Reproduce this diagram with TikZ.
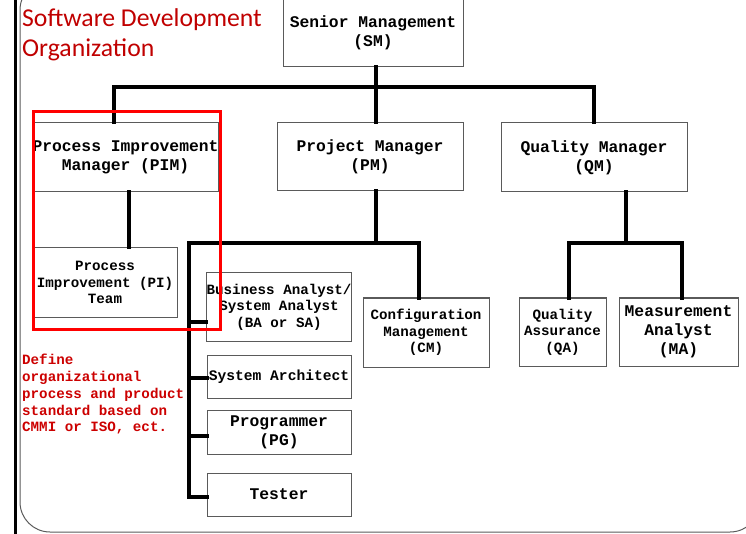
\documentclass[tikz,border=0pt]{standalone}
\usepackage{fontspec}
\setmonofont{Liberation Mono}
\newfontfamily\titlefont{Carlito}
\definecolor{titlered}{RGB}{192,0,0}
\definecolor{notered}{RGB}{204,0,0}
\definecolor{boxgray}{RGB}{90,90,90}
\begin{document}
\begin{tikzpicture}[x=1pt,y=-1pt,
  box/.style={draw=boxgray, line width=1pt, fill=white, inner sep=0pt, align=center,
    font=\ttfamily\bfseries\fontsize{16.3}{19}\selectfont},
  smallbox/.style={box, font=\ttfamily\bfseries\fontsize{14.2}{16.5}\selectfont},
  conn/.style={line width=4pt, line join=miter, line cap=rect},
  frame/.style={draw=boxgray, line width=1pt, rounded corners=30pt},
  highlight/.style={draw=red, line width=3pt}]
\useasboundingbox (0,0) rectangle (746,534);

% slide frame
\draw[frame] (20,-20) rectangle (760,532);
\draw[line width=3pt] (15,-5) -- (15,540);

% title
\node[anchor=base west, inner sep=0pt, text=titlered, align=left,
  font=\titlefont\fontsize{25.7}{30}\selectfont] (title) at (22,57)
  {Software Development\\Organization};

% boxes
\node[box, minimum width=180pt, minimum height=68pt] (sm) at (373,33) {Senior Management\\(SM)};
\node[box, minimum width=185pt, minimum height=69pt] (pim) at (125.5,157.5) {Process Improvement\\Manager (PIM)};
\node[box, minimum width=186pt, minimum height=68pt] (pm) at (370,157) {Project Manager\\(PM)};
\node[box, minimum width=186pt, minimum height=69pt] (qm) at (594,157.5) {Quality Manager\\(QM)};
\node[smallbox, minimum width=144pt, minimum height=69pt] (pi) at (105,282.5) {Process\\Improvement (PI)\\Team};
\node[smallbox, minimum width=144pt, minimum height=68pt] (ba) at (279,307) {Business Analyst/\\System Analyst\\(BA or SA)};
\node[smallbox, font=\ttfamily\bfseries\fontsize{14.6}{17}\selectfont,
  minimum width=144pt, minimum height=43pt] (sa) at (279,376.5) {System Architect};
\node[box, minimum width=144pt, minimum height=44pt] (pg) at (279,432) {Programmer\\(PG)};
\node[box, minimum width=144pt, minimum height=43pt] (tester) at (279,494.5) {Tester};
\node[smallbox, minimum width=126pt, minimum height=69pt] (cm) at (426,332.5) {Configuration\\Management\\(CM)};
\node[smallbox, minimum width=87pt, minimum height=68pt] (qa) at (562.5,332) {Quality\\Assurance\\(QA)};
\node[box, minimum width=119pt, minimum height=68pt] (ma) at (678.5,332) {Measurement\\Analyst\\(MA)};

% junction points of the connector bars
\coordinate (j1) at (376,87);
\coordinate (j2) at (376,243);
\coordinate (spine) at (189,243);
\coordinate (j3) at (626,243);

% top level
\draw[conn] (sm.south -| j1) -- (j1);
\draw[conn] ([xshift=-11.5pt]pim.north) |- (j1) -| (qm.north);
\draw[conn] (j1) -- (pm.north -| j1);

% process improvement
\draw[conn] ([xshift=3pt]pim.south |- pi.north) -- ([xshift=3pt]pim.south);

% project manager branch
\draw[conn] (pm.south -| j2) -- (j2);
\draw[conn] ([xshift=-7pt]cm.north) |- (spine) |- ([yshift=-2.5pt]tester.west);
\draw[conn] ([yshift=-15pt]ba.west -| spine) -- ([yshift=-15pt]ba.west);
\draw[conn] ([yshift=-1.5pt]sa.west -| spine) -- ([yshift=-1.5pt]sa.west);
\draw[conn] ([yshift=-4pt]pg.west -| spine) -- ([yshift=-4pt]pg.west);

% quality manager branch
\draw[conn] (qm.south -| j3) -- (j3);
\draw[conn] ([xshift=6.5pt]qa.north) |- (j3) -| ([xshift=3.5pt]ma.north);

% highlighted process improvement group
\draw[highlight] (33,112) rectangle (220,329);

% note
\node[anchor=north west, inner sep=0pt, text=notered, align=left,
  font=\ttfamily\bfseries\fontsize{14.2}{16.8}\selectfont] (note) at (22,354)
  {Define\\organizational\\process and product\\standard based on\\CMMI or ISO, ect.};
\end{tikzpicture}
\end{document}
